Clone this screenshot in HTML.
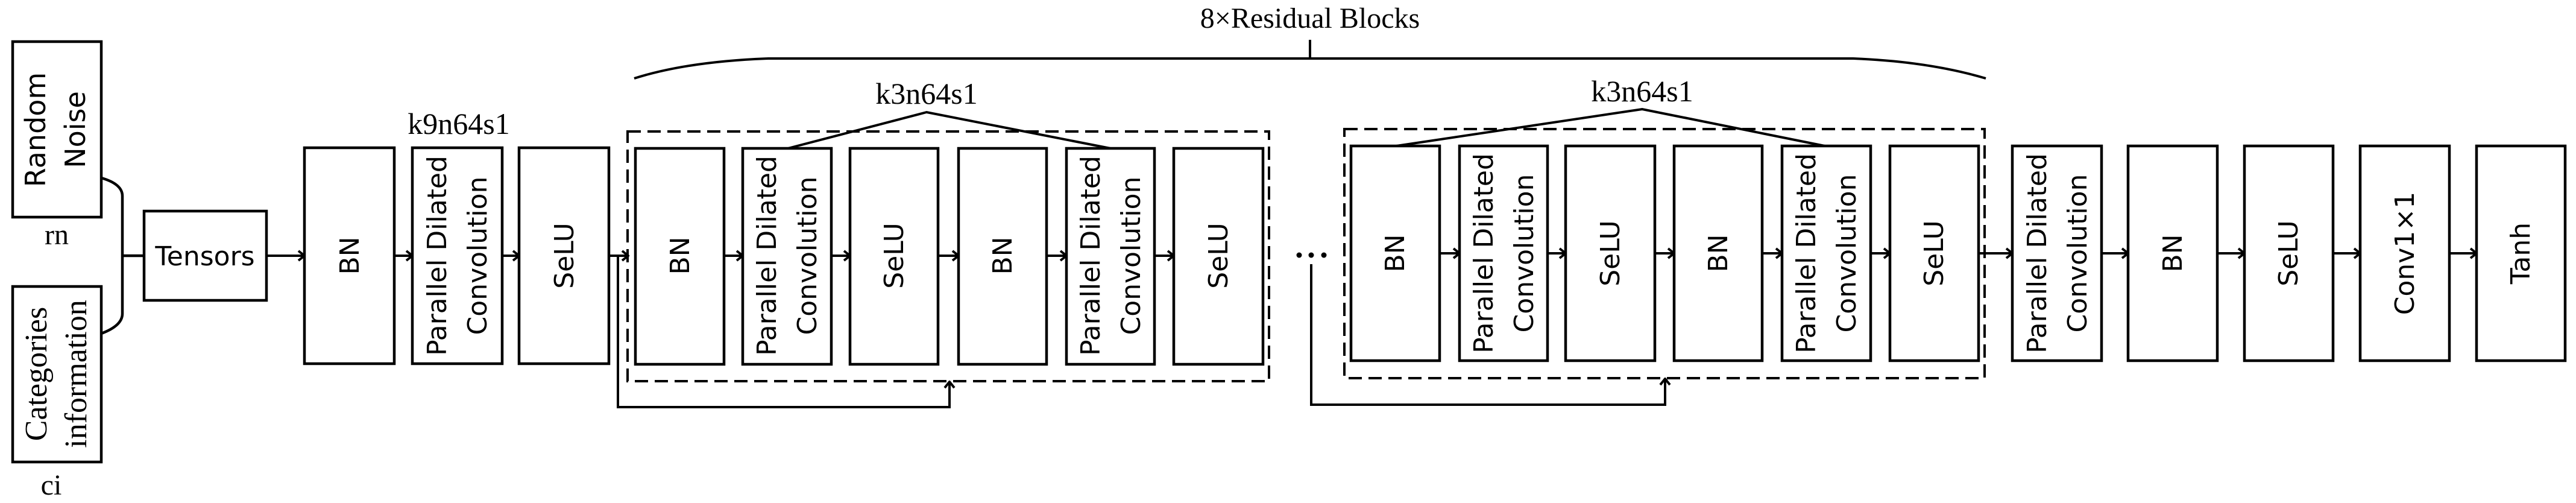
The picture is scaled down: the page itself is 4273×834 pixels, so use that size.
<!DOCTYPE html>
<html><head><meta charset="utf-8"><style>
html,body{margin:0;padding:0;background:#fff;}
svg{display:block;}
.s{font-family:"DejaVu Sans","Liberation Sans",sans-serif;font-size:44px;fill:#000;}
.t{font-family:"Liberation Serif",serif;fill:#000;}
</style></head><body>
<svg width="4273" height="834" viewBox="0 0 4273 834" xmlns="http://www.w3.org/2000/svg">
<defs>
<marker id="a" markerWidth="14" markerHeight="20" refX="12" refY="10" orient="auto" markerUnits="userSpaceOnUse">
<polyline points="2,2 12,10 2,18" fill="none" stroke="#000" stroke-width="4"/>
</marker>
</defs>
<g fill="none" stroke="#000" stroke-width="4.5">
<rect x="21" y="69" width="147" height="291"/>
<rect x="21" y="475" width="147" height="291"/>
<path d="M168,295 Q203,305 203,325 L203,520 Q203,540 168,553"/>
<line x1="203" y1="424" x2="239" y2="424"/>
<rect x="239" y="350" width="203" height="148"/>
<rect x="505" y="245" width="149" height="358"/>
<rect x="684" y="245" width="149" height="358"/>
<rect x="861" y="245" width="149" height="358"/>
<rect x="1041" y="218" width="1064" height="414" stroke-dasharray="22,11" stroke-width="4"/>
<rect x="1054" y="246" width="147" height="358"/>
<rect x="1232" y="246" width="147" height="358"/>
<rect x="1410" y="246" width="146" height="358"/>
<rect x="1590" y="246" width="146" height="358"/>
<rect x="1769" y="246" width="146" height="358"/>
<rect x="1947" y="246" width="148" height="358"/>
<rect x="2230" y="214" width="1062" height="413" stroke-dasharray="22,11" stroke-width="4"/>
<rect x="2241" y="242" width="147" height="356"/>
<rect x="2421" y="242" width="146" height="356"/>
<rect x="2597" y="242" width="148" height="356"/>
<rect x="2777" y="242" width="146" height="356"/>
<rect x="2956" y="242" width="147" height="356"/>
<rect x="3135" y="242" width="147" height="356"/>
<rect x="3338" y="242" width="148" height="356"/>
<rect x="3530" y="242" width="148" height="356"/>
<rect x="3723" y="242" width="147" height="356"/>
<rect x="3915" y="242" width="148" height="356"/>
<rect x="4108" y="242" width="147" height="356"/>
<g stroke-width="4" marker-end="url(#a)">
<line x1="442" y1="424" x2="505" y2="424"/>
<line x1="654" y1="424" x2="684" y2="424"/>
<line x1="833" y1="424" x2="861" y2="424"/>
<line x1="1010" y1="424" x2="1042" y2="424"/>
<line x1="1201" y1="424" x2="1232" y2="424"/>
<line x1="1379" y1="424" x2="1410" y2="424"/>
<line x1="1556" y1="424" x2="1590" y2="424"/>
<line x1="1736" y1="424" x2="1769" y2="424"/>
<line x1="1915" y1="424" x2="1947" y2="424"/>
<line x1="2388" y1="420" x2="2421" y2="420"/>
<line x1="2567" y1="420" x2="2597" y2="420"/>
<line x1="2745" y1="420" x2="2777" y2="420"/>
<line x1="2923" y1="420" x2="2956" y2="420"/>
<line x1="3103" y1="420" x2="3135" y2="420"/>
<line x1="3282" y1="420" x2="3338" y2="420"/>
<line x1="3486" y1="420" x2="3530" y2="420"/>
<line x1="3678" y1="420" x2="3723" y2="420"/>
<line x1="3870" y1="420" x2="3915" y2="420"/>
<line x1="4063" y1="420" x2="4108" y2="420"/>
<polyline points="1025,424 1025,675 1575,675 1575,633"/>
<polyline points="2175,438 2175,671 2762,671 2762,628"/>
</g>
<polyline stroke-width="4" points="1307,246 1537,186 1842,246"/>
<polyline stroke-width="4" points="2316,242 2724,181 3027,242"/>
<path stroke-width="4" d="M1052,130 Q1140,102 1274,97 L3074,97 Q3200,102 3294,130"/>
<line stroke-width="4" x1="2173" y1="97" x2="2173" y2="66"/>
</g>
<g fill="#000"><circle cx="2155" cy="423" r="4.5"/><circle cx="2175" cy="423" r="4.5"/><circle cx="2196" cy="423" r="4.5"/></g>
<text class="t" x="2173" y="46" font-size="48" text-anchor="middle">8×Residual Blocks</text>
<text class="t" x="761" y="222" font-size="50" text-anchor="middle">k9n64s1</text>
<text class="t" x="1537" y="172" font-size="50" text-anchor="middle">k3n64s1</text>
<text class="t" x="2724" y="168" font-size="50" text-anchor="middle">k3n64s1</text>
<text class="t" x="94" y="405" font-size="48" text-anchor="middle">rn</text>
<text class="t" x="85" y="820" font-size="48" text-anchor="middle">ci</text>
<text class="s" x="340" y="440" font-size="44" text-anchor="middle">Tensors</text>
<g class="s" text-anchor="middle">
<text transform="translate(60,215) rotate(-90)" font-size="46" y="15">Random</text>
<text transform="translate(126,215) rotate(-90)" font-size="46" y="15">Noise</text>
</g>
<g text-anchor="middle">
<text class="t" font-size="52" transform="translate(60,620) rotate(-90)" y="17">Categories</text>
<text class="t" font-size="52" transform="translate(126,620) rotate(-90)" y="17">information</text>
</g>
<g class="s" text-anchor="middle">
<text transform="translate(580,424) rotate(-90)" y="15">BN</text>
<text transform="translate(725,424) rotate(-90)" y="15">Parallel Dilated</text>
<text transform="translate(792,424) rotate(-90)" y="15">Convolution</text>
<text transform="translate(936,424) rotate(-90)" y="15">SeLU</text>
<text transform="translate(1128,424) rotate(-90)" y="15">BN</text>
<text transform="translate(1272,424) rotate(-90)" y="15">Parallel Dilated</text>
<text transform="translate(1339,424) rotate(-90)" y="15">Convolution</text>
<text transform="translate(1483,424) rotate(-90)" y="15">SeLU</text>
<text transform="translate(1663,424) rotate(-90)" y="15">BN</text>
<text transform="translate(1809,424) rotate(-90)" y="15">Parallel Dilated</text>
<text transform="translate(1876,424) rotate(-90)" y="15">Convolution</text>
<text transform="translate(2021,424) rotate(-90)" y="15">SeLU</text>
<text transform="translate(2314,420) rotate(-90)" y="15">BN</text>
<text transform="translate(2461,420) rotate(-90)" y="15">Parallel Dilated</text>
<text transform="translate(2528,420) rotate(-90)" y="15">Convolution</text>
<text transform="translate(2671,420) rotate(-90)" y="15">SeLU</text>
<text transform="translate(2850,420) rotate(-90)" y="15">BN</text>
<text transform="translate(2996,420) rotate(-90)" y="15">Parallel Dilated</text>
<text transform="translate(3063,420) rotate(-90)" y="15">Convolution</text>
<text transform="translate(3208,420) rotate(-90)" y="15">SeLU</text>
<text transform="translate(3379,420) rotate(-90)" y="15">Parallel Dilated</text>
<text transform="translate(3446,420) rotate(-90)" y="15">Convolution</text>
<text transform="translate(3604,420) rotate(-90)" y="15">BN</text>
<text transform="translate(3796,420) rotate(-90)" y="15">SeLU</text>
<text transform="translate(3989,420) rotate(-90)" y="15">Conv1×1</text>
<text transform="translate(4181,420) rotate(-90)" y="15">Tanh</text>
</g>
</svg>
</body></html>
